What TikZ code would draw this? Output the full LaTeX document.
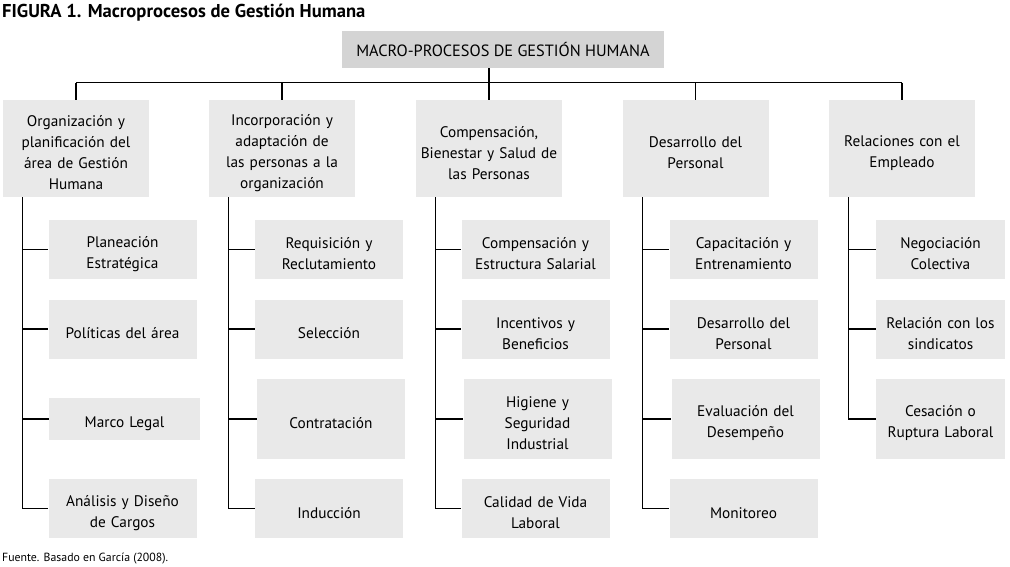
\documentclass[tikz,border=0pt]{standalone}
\usepackage{fontspec}
\setmainfont{PT Sans}
\definecolor{topgray}{RGB}{212,212,212}
\definecolor{boxgray}{RGB}{233,233,233}
\begin{document}
\begin{tikzpicture}
[
    x=1pt, y=-1pt,
    every node/.style={font=\fontsize{15.3}{21}\selectfont, inner sep=0pt},
    boxtext/.style={align=center, text width=#1,
        execute at begin node={\rule{0pt}{20pt}}},
    topbox/.style={fill=topgray, minimum width=322pt, minimum height=37pt,
        font=\fontsize{16.3}{18}\selectfont, align=center},
    procbox/.style={fill=boxgray, minimum width=146pt, minimum height=97pt, boxtext=140pt},
    subbox/.style={fill=boxgray, minimum width=148pt, minimum height=59pt, boxtext=140pt},
    tallbox/.style={subbox, minimum height=80pt},
    link/.style={line width=1.2pt},
]
\useasboundingbox (0,0) rectangle (1010,566);
\node[anchor=base west, font=\fontsize{18.6}{20}\selectfont\bfseries] (title) at (2,17)
    {FIGURA 1. Macroprocesos de Gestión Humana};
\node[anchor=base west, font=\fontsize{11.8}{13}\selectfont] (fuente) at (2,561)
    {Fuente. Basado en García (2008).};

\node[topbox] (macro) at (503,49.5) {MACRO-PROCESOS DE GESTIÓN HUMANA};

% macro-procesos
\node[procbox] (org) at (76,148.5) {Organización y\\planificación del\\área de Gestión\\Humana};
\node[procbox] (inc) at (282,148.5) {Incorporación y\\adaptación de\\las personas a la\\organización};
\node[procbox] (comp) at (489,148.5) {Compensación,\\Bienestar y Salud de\\las Personas};
\node[procbox] (des) at (695.5,148.5) {Desarrollo del\\Personal};
\node[procbox] (rel) at (902,148.5) {Relaciones con el\\Empleado};

% subprocesos
\node[subbox] (org1) at (122.5,249.5) {Planeación\\Estratégica};
\node[subbox] (org2) at (122.5,329) {Políticas del área};
\node[subbox, minimum width=151pt, minimum height=42pt] (org3) at (124.5,419) {Marco Legal};
\node[subbox] (org4) at (122.5,508.5) {Análisis y Diseño\\de Cargos};

\node[subbox] (inc1) at (329,249.5) {Requisición y\\Reclutamiento};
\node[subbox] (inc2) at (329,329) {Selección};
\node[tallbox] (inc3) at (331,419) {Contratación};
\node[subbox] (inc4) at (329,508.5) {Inducción};

\node[subbox] (comp1) at (535.5,249.5) {Compensación y\\Estructura Salarial};
\node[subbox] (comp2) at (535.5,329) {Incentivos y\\Beneficios};
\node[tallbox] (comp3) at (537.5,419) {Higiene y\\Seguridad\\Industrial};
\node[subbox] (comp4) at (535.5,508.5) {Calidad de Vida\\Laboral};

\node[subbox] (des1) at (743.5,249.5) {Capacitación y\\Entrenamiento};
\node[subbox] (des2) at (743.5,329) {Desarrollo del\\Personal};
\node[tallbox] (des3) at (745.5,419) {Evaluación del\\Desempeño};
\node[subbox] (des4) at (743.5,508.5) {Monitoreo};

\node[subbox, minimum width=129pt, text width=124pt] (rel1) at (940.5,249.5) {Negociación\\Colectiva};
\node[subbox, minimum width=129pt, text width=124pt] (rel2) at (940.5,329) {Relación con los\\sindicatos};
\node[tallbox, minimum width=129pt, text width=124pt] (rel3) at (940.5,419) {Cesación o\\Ruptura Laboral};

% conectores
\coordinate (bus) at (0,82.5);
\draw[link] (macro.south -| comp.north) -- (comp.north);
\draw[link] (org.north |- bus) -- (rel.north |- bus);
\foreach \c in {org,inc,des,rel}
    \draw[link] (\c.north |- bus) -- (\c.north);
\foreach \c/\n in {org/4,inc/4,comp/4,des/4,rel/3} {
    \coordinate (\c-spine) at ([xshift=20pt]\c.south west);
    \draw[link] (\c-spine) |- (\c\n.west);
    \foreach \i in {1,...,\n}
        \draw[link] (\c-spine |- \c\i.west) -- (\c\i.west);
}
\end{tikzpicture}
\end{document}
